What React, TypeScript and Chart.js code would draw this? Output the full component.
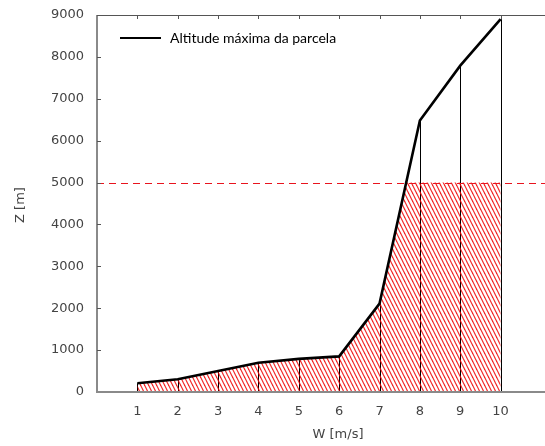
import React, { useEffect, useRef } from "react";
import { Chart, registerables } from "chart.js";

Chart.register(...registerables);

const windSpeeds = [1, 2, 3, 4, 5, 6, 7, 8, 9, 10];
const maxAltitude = [210, 305, 500, 700, 790, 850, 2110, 6480, 7790, 8900];
const limitAltitude = 5000;
const yTickValues = [0, 1000, 2000, 3000, 4000, 5000, 6000, 7000, 8000, 9000];
const xTickValues = [1, 2, 3, 4, 5, 6, 7, 8, 9, 10];
const legendLabel = "Altitude máxima da parcela";
const xTitle = "W [m/s]";
const yTitle = "Z [m]";

const FONT = "'DejaVu Sans', sans-serif";

function makeHatch(): CanvasPattern | string {
  const c = document.createElement("canvas");
  c.width = 4;
  c.height = 8;
  const g = c.getContext("2d");
  if (!g) return "rgba(255,0,0,0.5)";
  g.strokeStyle = "rgba(240,0,0,0.85)";
  g.lineWidth = 1.2;
  for (let k = -1; k <= 1; k++) {
    g.beginPath();
    g.moveTo(4 * k - 1, -2);
    g.lineTo(4 * k + 5, 10);
    g.stroke();
  }
  const p = g.createPattern(c, "repeat");
  return p || "rgba(255,0,0,0.5)";
}

const noPad = (s: any) => {
  s.paddingLeft = 0;
  s.paddingRight = 0;
  s.paddingTop = 0;
  s.paddingBottom = 0;
};

const decorPlugin = {
  id: "decor",
  beforeDatasetsDraw(chart: any) {
    const { ctx, chartArea, scales } = chart;
    const xs = scales.x;
    const ys = scales.y;
    ctx.save();
    ctx.strokeStyle = "#000";
    ctx.lineWidth = 1;
    windSpeeds.forEach((w, i) => {
      const px = Math.round(xs.getPixelForValue(w)) + 0.5;
      ctx.beginPath();
      ctx.moveTo(px, ys.getPixelForValue(0));
      ctx.lineTo(px, ys.getPixelForValue(maxAltitude[i]));
      ctx.stroke();
    });
    ctx.restore();
    const yTop = ys.getPixelForValue(limitAltitude);
    ctx.save();
    ctx.beginPath();
    ctx.rect(chartArea.left, yTop, chartArea.right - chartArea.left, chartArea.bottom - yTop);
    ctx.clip();
  },
  afterDatasetDraw(chart: any, args: any) {
    if (args.index !== 1) return;
    chart.ctx.restore();
  },
  afterDatasetsDraw(chart: any) {
    const { ctx, chartArea, scales } = chart;
    const xs = scales.x;
    const ys = scales.y;
    ctx.save();
    const yl = Math.round(ys.getPixelForValue(limitAltitude)) + 0.5;
    ctx.strokeStyle = "#e8141e";
    ctx.lineWidth = 1;
    ctx.setLineDash([7, 5]);
    ctx.beginPath();
    ctx.moveTo(chartArea.left, yl);
    ctx.lineTo(chart.width, yl);
    ctx.stroke();
    ctx.setLineDash([]);

    ctx.strokeStyle = "#8a8a8a";
    ctx.lineWidth = 2;
    ctx.beginPath();
    ctx.moveTo(chartArea.left, chartArea.top);
    ctx.lineTo(chartArea.left, chartArea.bottom);
    ctx.lineTo(chart.width, chartArea.bottom);
    ctx.stroke();
    ctx.strokeStyle = "#555";
    ctx.lineWidth = 1.2;
    ctx.beginPath();
    ctx.moveTo(chartArea.left, chartArea.top + 0.5);
    ctx.lineTo(chart.width, chartArea.top + 0.5);
    ctx.stroke();
    ctx.lineWidth = 1;
    xTickValues.forEach((v) => {
      const px = Math.round(xs.getPixelForValue(v)) + 0.5;
      ctx.beginPath();
      ctx.moveTo(px, chartArea.top);
      ctx.lineTo(px, chartArea.top + 4);
      ctx.stroke();
    });
    yTickValues.forEach((v) => {
      if (v === 0 || v === 9000) return;
      const py = Math.round(ys.getPixelForValue(v)) + 0.5;
      ctx.beginPath();
      ctx.moveTo(chartArea.left, py);
      ctx.lineTo(chartArea.left + 4, py);
      ctx.stroke();
    });

    ctx.strokeStyle = "#000";
    ctx.lineWidth = 2;
    ctx.beginPath();
    ctx.moveTo(120, 38);
    ctx.lineTo(161, 38);
    ctx.stroke();
    ctx.fillStyle = "#000";
    ctx.font = "14px Lato, sans-serif";
    ctx.textBaseline = "alphabetic";
    ctx.textAlign = "left";
    ctx.fillText(legendLabel, 170, 43);

    ctx.fillStyle = "#444";
    ctx.font = "13px " + FONT;
    ctx.textAlign = "center";
    ctx.textBaseline = "middle";
    ctx.fillText(xTitle, 338, 435);
    ctx.save();
    ctx.translate(21, 205);
    ctx.rotate(-Math.PI / 2);
    ctx.fillText(yTitle, 0, 0);
    ctx.restore();
    ctx.restore();
  },
};

export default function App() {
  const ref = useRef<HTMLCanvasElement | null>(null);
  useEffect(() => {
    if (!ref.current) return;
    const points = windSpeeds.map((w, i) => ({ x: w, y: maxAltitude[i] }));
    const chart = new Chart(ref.current, {
      type: "line",
      data: {
        datasets: [
          {
            label: legendLabel,
            data: points,
            borderColor: "#000",
            borderWidth: 2.6,
            pointRadius: 0,
            tension: 0,
            fill: false,
          },
          {
            label: "hatch",
            data: points,
            borderWidth: 0,
            borderColor: "rgba(0,0,0,0)",
            backgroundColor: makeHatch() as any,
            pointRadius: 0,
            tension: 0,
            fill: "origin",
          },
        ],
      },
      options: {
        responsive: false,
        animation: false,
        layout: { padding: { top: 15, right: 0, left: 0, bottom: 0 } },
        plugins: {
          legend: { display: false },
          tooltip: { enabled: false },
        },
        scales: {
          x: {
            type: "linear",
            min: 0,
            max: 11.1,
            grid: { display: false, drawTicks: false, tickLength: 0 },
            border: { display: false },
            ticks: {
              stepSize: 1,
              padding: 12,
              color: "#444",
              font: { family: FONT, size: 13 },
              autoSkip: false,
              maxRotation: 0,
              includeBounds: false,
              callback: (v: any) => (xTickValues.includes(Number(v)) ? String(v) : ""),
            },
            afterFit: (s: any) => {
              s.height = 54;
              noPad(s);
            },
          },
          y: {
            type: "linear",
            min: 0,
            max: 9000,
            grid: { display: false, drawTicks: false, tickLength: 0 },
            border: { display: false },
            ticks: {
              stepSize: 1000,
              padding: 13,
              color: "#444",
              font: { family: FONT, size: 13 },
              callback: (v: any) => (yTickValues.includes(Number(v)) ? String(v) : ""),
            },
            afterFit: (s: any) => {
              s.width = 97;
              noPad(s);
            },
          },
        },
      },
      plugins: [decorPlugin],
    });
    return () => chart.destroy();
  }, []);
  return (
    <div style={{ position: "fixed", left: 0, top: 0, width: 545, height: 446, background: "#fff" }}>
      <canvas ref={ref} width={545} height={446} style={{ width: 545, height: 446 }} />
    </div>
  );
}
